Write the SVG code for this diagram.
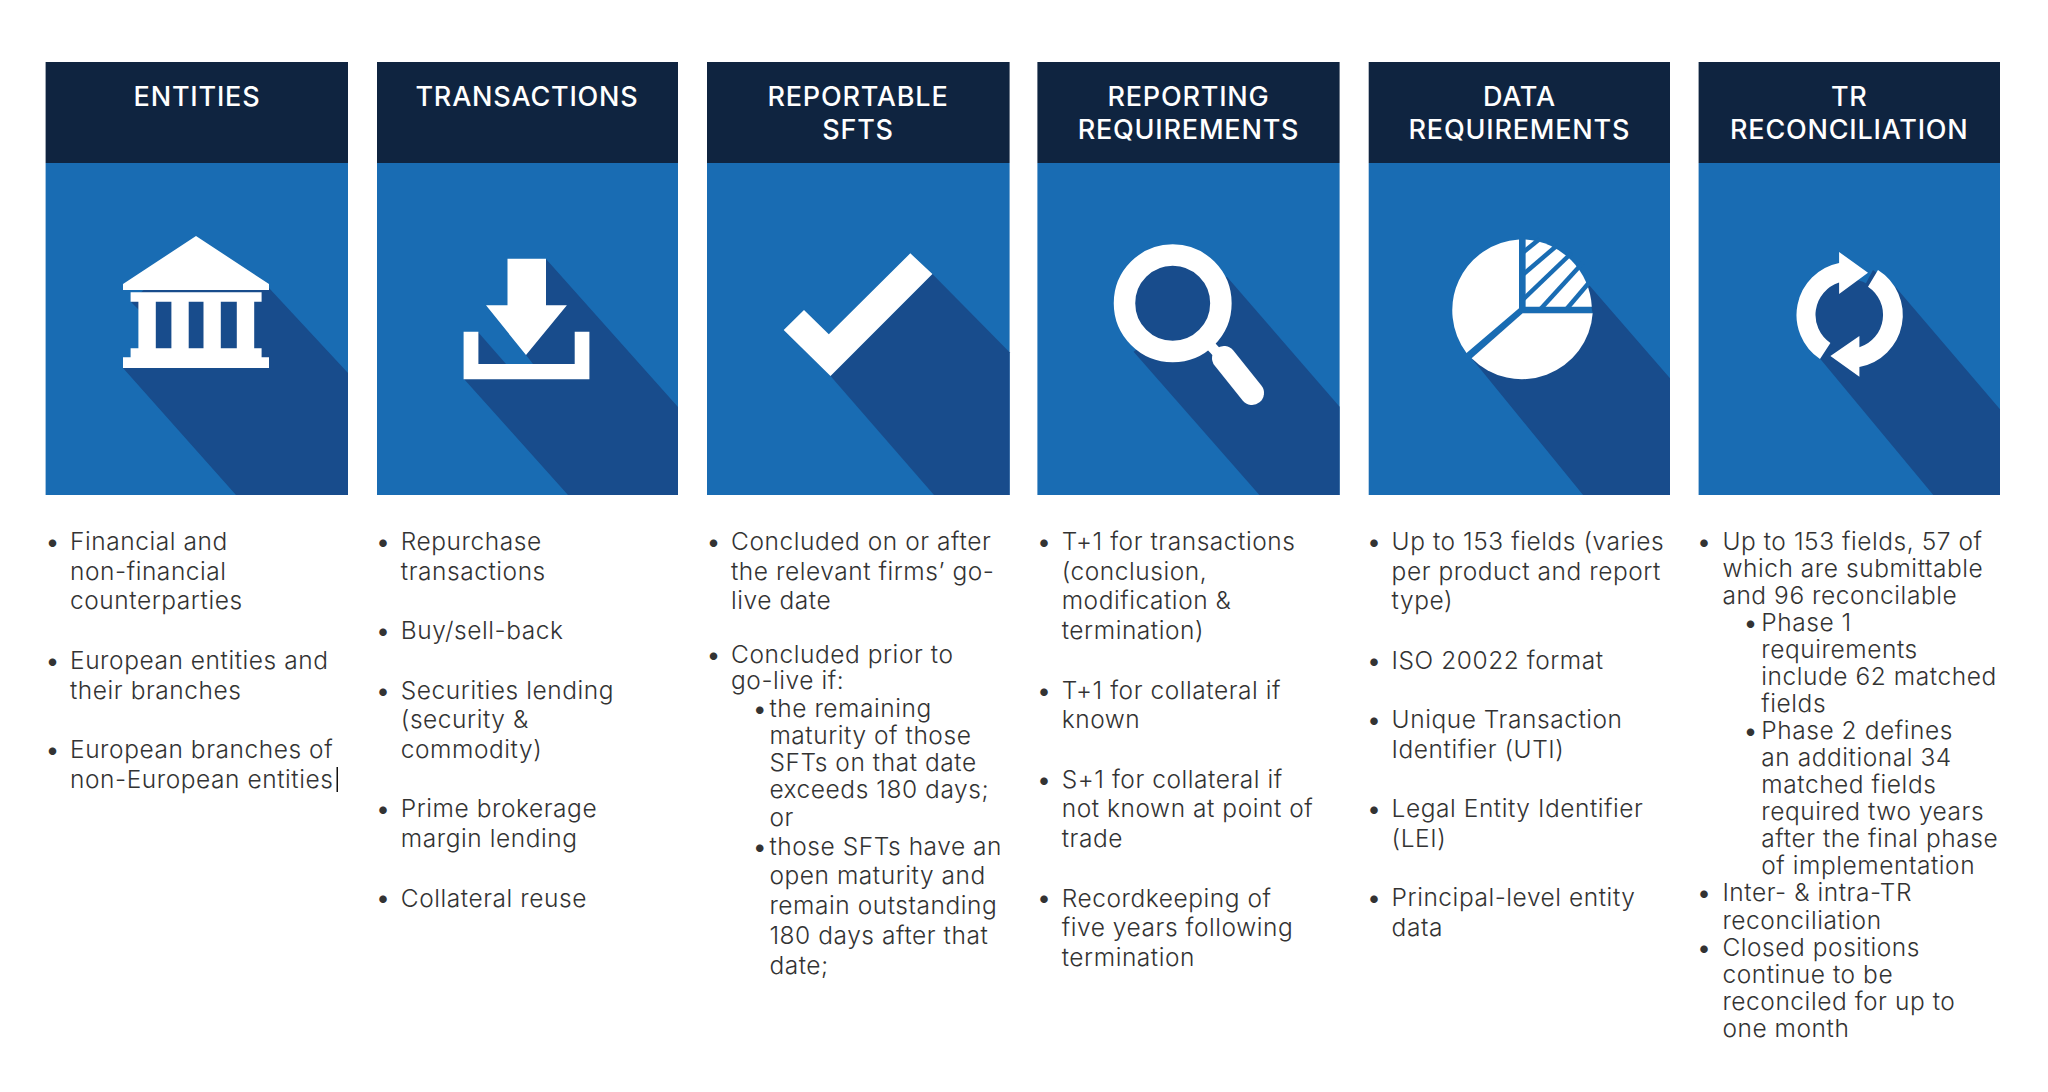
<svg xmlns="http://www.w3.org/2000/svg" width="2048" height="1092" viewBox="0 0 2048 1092">
<style>
.hd{fill:#0f2440}.bg{fill:#196cb3}.sh{fill:#184c8c}.ic{fill:#fff}
.h{font-family:Inter,"Liberation Sans",sans-serif;font-weight:500;font-size:27px;letter-spacing:.8px;fill:#fff;text-anchor:middle}
.t{font-family:Inter,"Liberation Sans",sans-serif;font-weight:300;font-size:24.500px;letter-spacing:.55px;fill:#333}
.b{font-family:Inter,"Liberation Sans",sans-serif;font-size:24px;fill:#333;text-anchor:middle}
</style>
<rect width="2048" height="1092" fill="#fff"/>
<g id="entities">
<rect class="bg" x="45.600" y="163" width="302.400" height="332"/><rect class="hd" x="45.600" y="62" width="302.400" height="101"/>
<polygon class="sh" points="123,368 236,495 348,495 348,373 269,288 196,240 131,302 139,310 139,350"/>
<path class="ic" d="M196 236L269 284V290H123V284ZM130.600 292.300H261.600V301.700H254.200V348.300H261.600V357.300H269V368H123V357.300H130.600V348.300H138.400V301.700H130.600ZM155.800 301.700V348.300H171.400V301.700ZM188.700 301.700V348.300H203.500V301.700ZM220.800 301.700V348.300H236.800V301.700Z" fill-rule="evenodd"/>
<text class="h" x="197" y="106">ENTITIES</text>
<text class="b"><tspan x="52.500" y="550">•</tspan><tspan x="52.500" y="668.800">•</tspan><tspan x="52.500" y="757.900">•</tspan></text>
<text class="t"><tspan x="70" y="550">Financial and</tspan><tspan x="70" y="579.700">non-financial</tspan><tspan x="70" y="609.400">counterparties</tspan><tspan x="70" y="668.800">European entities and</tspan><tspan x="70" y="698.500">their branches</tspan><tspan x="70" y="757.900">European branches of</tspan><tspan x="70" y="787.600">non-European entities</tspan></text>
<rect x="336.500" y="767" width="1.500" height="25" fill="#111"/>
</g>
<g id="transactions">
<rect class="bg" x="377" y="163" width="301" height="332"/><rect class="hd" x="377" y="62" width="301" height="101"/>
<polygon class="sh" points="546,259 678,407 678,495 568,495 464,379 478,332 506,364 533,364 526,355 546,305"/>
<path class="ic" d="M507.500 258.700H546V305.300H566.900L526 355L486 305.300H507.500Z"/>
<path class="ic" d="M463.600 331.700H478.400V364H574.700V331.700H589.400V379.300H463.600Z"/>
<text class="h" x="527" y="106">TRANSACTIONS</text>
<text class="b"><tspan x="383" y="550">•</tspan><tspan x="383" y="639.100">•</tspan><tspan x="383" y="698.500">•</tspan><tspan x="383" y="817.300">•</tspan><tspan x="383" y="906.400">•</tspan></text>
<text class="t"><tspan x="400.800" y="550">Repurchase</tspan><tspan x="400.800" y="579.700">transactions</tspan><tspan x="400.800" y="639.100">Buy/sell-back</tspan><tspan x="400.800" y="698.500">Securities lending</tspan><tspan x="400.800" y="728.200">(security &amp;</tspan><tspan x="400.800" y="757.900">commodity)</tspan><tspan x="400.800" y="817.300">Prime brokerage</tspan><tspan x="400.800" y="847">margin lending</tspan><tspan x="400.800" y="906.800">Collateral reuse</tspan></text>
</g>
<g id="reportable-sfts">
<rect class="bg" x="707" y="163" width="302.600" height="332"/><rect class="hd" x="707" y="62" width="302.600" height="101"/>
<polygon class="sh" points="830.500,376 934,495 1009.600,495 1009.600,352.300 932.400,274"/>
<polygon class="ic" points="783.700,330 804,310 828.800,334.300 910.300,253.300 932.400,274 830.500,376"/>
<text class="h"><tspan x="858" y="106">REPORTABLE</tspan><tspan x="858" y="139">SFTS</tspan></text>
<text class="b"><tspan x="713.400" y="550">•</tspan><tspan x="713.400" y="663.300">•</tspan><tspan x="759.800" y="716.700">•</tspan><tspan x="759.800" y="855">•</tspan></text>
<text class="t"><tspan x="731" y="550">Concluded on or after</tspan><tspan x="731" y="579.700">the relevant firms’ go-</tspan><tspan x="731" y="609.400">live date</tspan><tspan x="731" y="663.300">Concluded prior to</tspan><tspan x="731" y="689.300">go-live if:</tspan><tspan x="769.400" y="716.700">the remaining</tspan><tspan x="769.400" y="744">maturity of those</tspan><tspan x="769.400" y="770.700">SFTs on that date</tspan><tspan x="769.400" y="798">exceeds 180 days;</tspan><tspan x="769.400" y="826">or</tspan><tspan x="769.400" y="855">those SFTs have an</tspan><tspan x="769.400" y="884.300">open maturity and</tspan><tspan x="769.400" y="914">remain outstanding</tspan><tspan x="769.400" y="944">180 days after that</tspan><tspan x="769.400" y="974">date;</tspan></text>
</g>
<g id="reporting-requirements">
<rect class="bg" x="1037.400" y="163" width="302.200" height="332"/><rect class="hd" x="1037.400" y="62" width="302.200" height="101"/>
<polygon class="sh" points="1133.600,351.700 1259.400,495 1339.600,495 1339.600,406.700 1226.900,276.700"/>
<circle class="sh" cx="1172.700" cy="303.300" r="40"/>
<circle cx="1172.700" cy="303.300" r="48.200" fill="none" stroke="#fff" stroke-width="21.500"/>
<path d="M1210 345L1222 358" stroke="#fff" stroke-width="10" fill="none"/>
<path d="M1224 358L1252 393" stroke="#fff" stroke-width="24" stroke-linecap="round" fill="none"/>
<text class="h"><tspan x="1188.500" y="106">REPORTING</tspan><tspan x="1188.500" y="139">REQUIREMENTS</tspan></text>
<text class="b"><tspan x="1044" y="550">•</tspan><tspan x="1044" y="698.500">•</tspan><tspan x="1044" y="787.600">•</tspan><tspan x="1044" y="906.400">•</tspan></text>
<text class="t"><tspan x="1061.700" y="550">T+1 for transactions</tspan><tspan x="1061.700" y="579.700">(conclusion,</tspan><tspan x="1061.700" y="609.400">modification &amp;</tspan><tspan x="1061.700" y="639.100">termination)</tspan><tspan x="1061.700" y="698.500">T+1 for collateral if</tspan><tspan x="1061.700" y="728.200">known</tspan><tspan x="1061.700" y="787.600">S+1 for collateral if</tspan><tspan x="1061.700" y="817.300">not known at point of</tspan><tspan x="1061.700" y="847">trade</tspan><tspan x="1061.700" y="906.800">Recordkeeping of</tspan><tspan x="1061.700" y="936.100">five years following</tspan><tspan x="1061.700" y="965.800">termination</tspan></text>
</g>
<g id="data-requirements">
<rect class="bg" x="1368.700" y="163" width="301.300" height="332"/><rect class="hd" x="1368.700" y="62" width="301.300" height="101"/>
<polygon class="sh" points="1471.600,358.300 1583.100,495 1670,495 1670,378.300 1586.200,281.700 1592.700,313.300 1522.600,313.300"/>
<path class="ic" d="M1519 239.500A71 71 0 0 0 1466.500 353L1519 308.300Z"/>
<path class="ic" d="M1592.700 313.300A71 71 0 0 1 1471.600 358.300L1522.600 313.300Z"/>
<path class="ic" d="M1525.600 239.500A71 71 0 0 1 1591.800 306.700H1525.600Z"/>
<g stroke="#196cb3" stroke-width="4.500" fill="none"><path d="M1523.600 252L1539.600 239"/><path d="M1523.600 274L1557.600 245"/><path d="M1523.600 299L1571.600 253"/><path d="M1540.600 309L1582.600 263"/><path d="M1566.600 309L1589.600 282"/></g>
<text class="h"><tspan x="1519.400" y="106">DATA</tspan><tspan x="1519.400" y="139">REQUIREMENTS</tspan></text>
<text class="b"><tspan x="1374" y="550">•</tspan><tspan x="1374" y="668.800">•</tspan><tspan x="1374" y="728.200">•</tspan><tspan x="1374" y="817.300">•</tspan><tspan x="1374" y="906.400">•</tspan></text>
<text class="t"><tspan x="1391.600" y="550">Up to 153 fields (varies</tspan><tspan x="1391.600" y="579.700">per product and report</tspan><tspan x="1391.600" y="609.400">type)</tspan><tspan x="1391.600" y="668.800">ISO 20022 format</tspan><tspan x="1391.600" y="728.200">Unique Transaction</tspan><tspan x="1391.600" y="757.900">Identifier (UTI)</tspan><tspan x="1391.600" y="817.300">Legal Entity Identifier</tspan><tspan x="1391.600" y="847">(LEI)</tspan><tspan x="1391.600" y="906.400">Principal-level entity</tspan><tspan x="1391.600" y="936.100">data</tspan></text>
</g>
<g id="tr-reconciliation">
<rect class="bg" x="1698.600" y="163" width="301.400" height="332"/><rect class="hd" x="1698.600" y="62" width="301.400" height="101"/>
<polygon class="sh" points="1819.500,358 1933.300,495 2000,495 2000,409.300 1895.300,286.700 1873,270 1849,315"/>
<circle class="sh" cx="1849.200" cy="315" r="36"/>
<path class="ic" d="M1839.100 263A53 53 0 0 0 1820 359L1830.400 343A34 34 0 0 1 1839.100 282.500V294L1868 272.700L1839.100 252Z"/>
<path class="ic" d="M1878 270A53 53 0 0 1 1859.400 367V376.700L1830.400 356L1859.400 336V347.300A34 34 0 0 0 1868 286.700Z"/>
<text class="h"><tspan x="1849.300" y="106">TR</tspan><tspan x="1849.300" y="139">RECONCILIATION</tspan></text>
<text class="b"><tspan x="1704" y="549.500">•</tspan><tspan x="1750.500" y="630.700">•</tspan><tspan x="1750.500" y="739">•</tspan><tspan x="1704" y="901.400">•</tspan><tspan x="1704" y="955.600">•</tspan></text>
<text class="t"><tspan x="1722.400" y="549.500">Up to 153 fields, 57 of</tspan><tspan x="1722.400" y="576.600">which are submittable</tspan><tspan x="1722.400" y="603.600">and 96 reconcilable</tspan><tspan x="1761.300" y="630.700">Phase 1</tspan><tspan x="1761.300" y="657.800">requirements</tspan><tspan x="1761.300" y="684.900">include 62 matched</tspan><tspan x="1761.300" y="711.900">fields</tspan><tspan x="1761.300" y="739">Phase 2 defines</tspan><tspan x="1761.300" y="766.100">an additional 34</tspan><tspan x="1761.300" y="793.100">matched fields</tspan><tspan x="1761.300" y="820.200">required two years</tspan><tspan x="1761.300" y="847.300">after the final phase</tspan><tspan x="1761.300" y="874.300">of implementation</tspan><tspan x="1722.400" y="901.400">Inter- &amp; intra-TR</tspan><tspan x="1722.400" y="928.500">reconciliation</tspan><tspan x="1722.400" y="955.600">Closed positions</tspan><tspan x="1722.400" y="982.600">continue to be</tspan><tspan x="1722.400" y="1009.700">reconciled for up to</tspan><tspan x="1722.400" y="1036.800">one month</tspan></text>
</g>
</svg>
